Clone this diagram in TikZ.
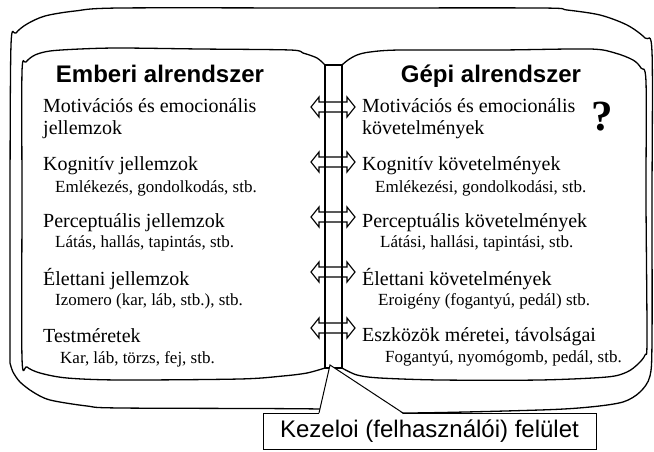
\documentclass[tikz,border=0pt]{standalone}
\usepackage{fontspec}
\setmainfont{Liberation Serif}
\setsansfont{Liberation Sans}
\usepackage{tikz}

\tikzset{
  page/.style={line width=1.3pt, fill=white},
  maintxt/.style={anchor=base west, inner sep=0pt, font=\fontsize{20}{24}\selectfont},
  subtxt/.style={anchor=base west, inner sep=0pt, font=\fontsize{17}{20}\selectfont},
  heading/.style={anchor=base, inner sep=0pt, font=\sffamily\bfseries\fontsize{24}{28}\selectfont},
}

\begin{document}
\begin{tikzpicture}[x=1pt, y=-1pt]
    \useasboundingbox (0,0) rectangle (654,452);

    % Outer cover
    \draw[page] plot[smooth, tension=0.5] coordinates {
        (10,363) (10,200) (11,45) (16,33) (27,24) (45,16) (75,11) (120,8)
        (330,8) (540,8) (567,10) (600,15) (627,25) (645,38) (652,52)
        (652,200) (652,340) (650,376) (640,392) (623,402) (590,407)
        (540,410) (400,413) (320,409) (120,408) (87,406) (50,400)
        (33,392) (20,382) (13,372) (10,363)};

    % Left page
    \draw[page] plot[smooth, tension=0.5] coordinates {
        (325,65) (317,58) (303,53) (290,50) (200,49) (120,48) (80,49)
        (50,51) (35,55) (26,62) (22,72) (22,200) (22,358) (27,367)
        (40,373) (67,378) (120,380) (240,379) (283,376) (307,373) (325,368)}
        -- cycle;

    % Right page
    \draw[page] plot[smooth, tension=0.5] coordinates {
        (342,65) (348,60) (357,55) (370,52) (400,50) (500,50) (590,49)
        (615,53) (633,60) (641,68) (646,82) (646,200) (647,340) (645,355)
        (638,364) (627,372) (607,377) (540,380) (440,380) (380,378)
        (357,375) (342,368)} -- cycle;

    % Spine with arrows
    \foreach \y in {107,162,217,272,328}
        \draw[line width=1.1pt, fill=white] (311,\y) -- (319,\y-10) -- (319,\y-5)
            -- (347,\y-5) -- (347,\y-10) -- (355,\y) -- (347,\y+10)
            -- (347,\y+5) -- (319,\y+5) -- (319,\y+10) -- cycle;
    \draw[line width=1.1pt] (325,65) rectangle (342,368);

    % Headings
    \node[heading] (hum) at (160,83) {Emberi alrendszer};
    \node[heading] (mach) at (491,83) {Gépi alrendszer};

    % Human side
    \node[maintxt] (h1) at (43,113) {Motivációs és emocionális};
    \node[maintxt] (h1b) at (43,135) {jellemzok};
    \node[maintxt] (h2) at (43,171) {Kognitív jellemzok};
    \node[subtxt]  (h2b) at (55,192) {Emlékezés, gondolkodás, stb.};
    \node[maintxt] (h3) at (43,227) {Perceptuális jellemzok};
    \node[subtxt]  (h3b) at (55,247) {Látás, hallás, tapintás, stb.};
    \node[maintxt] (h4) at (43,285) {Élettani jellemzok};
    \node[subtxt]  (h4b) at (55,305) {Izomero (kar, láb, stb.), stb.};
    \node[maintxt] (h5) at (43,342) {Testméretek};
    \node[subtxt]  (h5b) at (60,363) {Kar, láb, törzs, fej, stb.};

    % Machine side
    \node[maintxt] (m1) at (362,113) {Motivációs és emocionális};
    \node[maintxt] (m1b) at (362,135) {követelmények};
    \node[anchor=base, inner sep=0pt, font=\bfseries\fontsize{43}{45}\selectfont]
        (qm) at (602,130) {?};
    \node[maintxt] (m2) at (362,171) {Kognitív követelmények};
    \node[subtxt]  (m2b) at (375,192) {Emlékezési, gondolkodási, stb.};
    \node[maintxt] (m3) at (362,227) {Perceptuális követelmények};
    \node[subtxt]  (m3b) at (380,247) {Látási, hallási, tapintási, stb.};
    \node[maintxt] (m4) at (362,285) {Élettani követelmények};
    \node[subtxt]  (m4b) at (378,305) {Eroigény (fogantyú, pedál) stb.};
    \node[maintxt] (m5) at (362,341) {Eszközök méretei, távolságai};
    \node[subtxt]  (m5b) at (385,362) {Fogantyú, nyomógomb, pedál, stb.};

    % Interface callout
    \node[draw, line width=1pt, fill=white, minimum width=333pt, minimum height=36pt,
          inner sep=0pt, font=\sffamily\fontsize{24}{28}\selectfont]
        (iface) at (429.5,431) {Kezeloi (felhasználói) felület};
    \coordinate (tip) at (330,365);
    \fill[white] (319,414) -- (tip) -- (403,414) -- cycle;
    \draw[line width=1pt] (319,413) -- (tip) -- (403,413);
\end{tikzpicture}
\end{document}
